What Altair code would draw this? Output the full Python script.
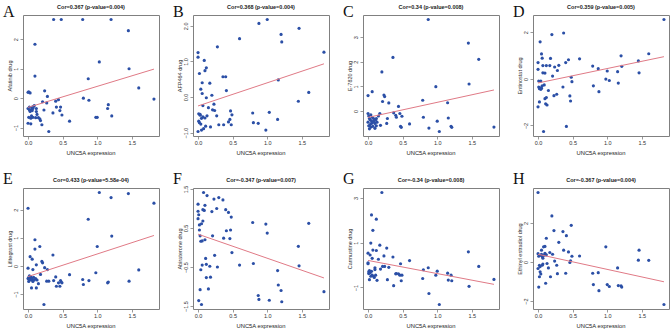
import altair as alt
import pandas as pd

# UNC5A expression per sample (shared by every panel)
unc5a = [0.0, 0.0, 0.0, 0.01, 0.01, 0.02, 0.02, 0.03, 0.03, 0.04,
         0.04, 0.05, 0.05, 0.06, 0.06, 0.07, 0.07, 0.08, 0.09, 0.1,
         0.1, 0.11, 0.12, 0.12, 0.13, 0.15, 0.17, 0.18, 0.2, 0.21,
         0.23, 0.24, 0.27, 0.28, 0.3, 0.36, 0.37, 0.4, 0.41, 0.44,
         0.46, 0.47, 0.48, 0.49, 0.6, 0.79, 0.8, 0.87, 0.88, 0.98,
         1.0, 1.03, 1.15, 1.16, 1.2, 1.21, 1.45, 1.46, 1.6, 1.82]

# Drug sensitivity scores, same sample order
afatinib = [0.2, -0.35, -0.85, 0.22, -0.65, -0.4, -0.3, 0.18, -0.45, -0.87,
            -0.68, -0.38, -0.6, -0.3, -0.42, -0.65, -0.35, -0.28, -0.25, 1.83,
            0.75, -0.66, -0.45, -0.35, -0.55, -0.66, -0.7, -0.76, -0.9, -0.12,
            -0.4, 0.25, -0.16, 0.06, -1.13, -0.5, 2.67, -0.1, -0.3, -0.05,
            -0.42, -0.3, 2.67, -0.57, -0.78, 2.67, 0.0, 0.66, -0.07, -0.65,
            -0.65, 1.23, -0.35, -0.22, 2.67, -0.6, 2.29, 1.0, 0.35, -0.03]
afp464 = [1.25, 1.12, -0.97, -0.47, -0.68, 0.66, -0.72, -0.49, -0.51, 0.22,
          -0.76, -0.93, -0.6, 0.4, 0.1, -0.24, -0.56, -0.89, 1.03, 0.74,
          -0.59, -0.82, 0.82, -0.02, -0.53, -0.3, 0.39, -0.84, 0.05, -0.36,
          -0.2, -0.38, -0.53, 1.41, -0.78, 0.57, -0.78, 0.57, 0.18, -0.7,
          -0.63, -0.39, -0.78, -0.5, 1.64, -0.45, -0.72, -0.74, 2.07, -0.93,
          2.18, -0.43, -0.63, 0.48, 1.76, 1.55, -0.12, 1.93, 0.13, 1.26]
e7820 = [0.63, -0.1, -0.45, -0.2, -0.6, -0.3, -0.72, -0.35, -0.55, -0.15,
         -0.65, -0.4, -0.5, 0.79, -0.25, -0.45, -0.62, -0.3, -0.4, -0.5,
         -0.7, -0.35, -0.3, -0.6, -0.45, -0.2, -0.1, -0.58, 1.59, 0.39,
         0.65, 0.59, -0.5, -0.3, 0.33, 2.18, -0.07, -0.17, -0.25, 0.19,
         -0.1, -0.62, -0.66, -0.21, -0.52, 0.44, -0.25, 3.72, -0.69, 0.99,
         -0.41, -0.83, 0.34, -0.28, -0.62, -0.66, 2.76, 1.1, 2.1, -0.65]
entinostat = [0.7, 0.41, -1.2, -0.09, -0.35, -0.99, -0.42, 1.59, -0.38, -0.09,
              -0.45, 1.07, -0.4, 0.89, -0.3, 0.57, 0.26, -2.26, -0.26, -0.85,
              0.25, -1.07, 0.57, -0.8, -1.12, -0.5, 0.57, 0.88, 1.9, 0.12,
              -0.72, 0.51, -0.66, 0.36, 0.58, -0.35, 1.97, 0.7, -2.04, 0.82,
              -0.73, -0.95, 0.07, -0.12, 0.86, 0.55, -0.3, 0.44, -0.55, -0.01,
              0.34, -0.07, 0.31, -0.18, 0.99, 0.54, 0.77, 0.26, 1.08, 2.55]
lifitegrast = [2.05, -0.08, -0.45, -0.4, -0.55, -0.35, -0.5, 0.33, -0.42, -0.48,
               -0.38, -0.78, -0.5, -0.45, 0.24, -0.13, -0.55, -0.4, -0.5, 0.93,
               0.6, -0.45, -0.78, 0.04, -0.5, -0.63, 0.69, -0.3, 0.16, 0.11,
               -1.37, -0.06, -0.54, -0.13, -0.54, 0.39, -0.52, -0.39, -0.72, -0.6,
               -0.72, -0.52, -0.57, -0.6, -0.31, -0.48, -0.66, 1.66, -0.52, -0.24,
               0.69, 2.61, -0.6, -0.57, 2.43, 1.06, 2.57, -0.54, -0.14, 2.23]
abiraterone = [1.11, 0.93, 0.74, -1.36, 0.84, 0.58, 0.45, 0.3, -1.08, 0.16,
               -0.57, 0.61, -1.46, 0.17, -0.45, 0.68, 0.97, 1.41, 0.95, 1.08,
               0.2, -0.28, -0.43, -0.77, 1.33, -1.06, -0.48, -0.76, 0.92, 0.3,
               1.24, -0.2, 1.0, -0.5, 1.28, 1.22, 0.24, 0.97, 0.43, 0.9,
               0.23, 0.45, 0.78, -0.13, -0.45, 0.64, -0.41, -1.23, -1.33, 0.6,
               0.37, -1.35, -0.59, -0.96, -1.1, -1.39, 0.03, -0.47, 0.62, -1.13]
carmustine = [0.53, 0.1, 0.06, -0.38, -0.3, -0.24, -0.65, 0.45, -0.35, 0.98,
              -0.5, 2.24, -0.28, 0.3, -0.45, 1.55, 0.67, -0.5, -0.55, -0.12,
              -0.2, -0.45, 2.05, 0.65, -0.68, 0.26, 0.89, -0.18, 3.24, -0.06,
              0.41, -0.06, 0.76, -0.65, -0.1, 0.36, -0.92, -0.39, -0.38, -0.39,
              -0.45, 0.06, -0.7, -0.45, 0.2, -0.6, -0.21, -0.12, -1.27, -0.45,
              -0.27, -1.76, -0.36, -0.67, -0.45, -0.7, 0.59, -0.95, -0.06, -0.64]
ethinyl_estradiol = [3.56, 0.43, -0.33, -1.28, 0.3, -0.16, -0.75, -0.23, -0.5, -0.61,
                     0.35, 0.61, 0.4, -0.16, 0.28, -0.1, 0.2, 0.78, 0.35, 0.8,
                     0.45, -1.08, 1.22, 0.37, -0.07, -0.3, 0.49, -0.75, 2.36, 0.4,
                     1.61, 0.05, -0.16, -0.59, 1.01, 1.56, 0.61, -0.57, 1.35, 0.52,
                     -0.02, 0.07, 1.88, 0.3, 0.31, -0.57, -1.15, -0.54, -1.46, 0.78,
                     -1.15, -1.25, -0.3, -1.2, -1.22, -1.28, 0.1, 0.61, 0.09, -2.17]

# Panel letters, y titles, headers and tick sets
letters = ["A", "B", "C", "D", "E", "F", "G", "H"]
drug_titles = ["Afatinib drug", "AFP464 drug", "E-7820 drug", "Entinostat drug",
               "Lifitegrast drug", "Abiraterone drug", "Carmustine drug",
               "Ethinyl estradiol drug"]
headers = ["Cor=0.367 (p-value=0.004)", "Cor=0.368 (p-value=0.004)",
           "Cor=0.34 (p-value=0.008)", "Cor=0.359 (p-value=0.005)",
           "Cor=0.433 (p-value=5.58e-04)", "Cor=-0.347 (p-value=0.007)",
           "Cor=-0.34 (p-value=0.008)", "Cor=-0.367 (p-value=0.004)"]
drug_values = [afatinib, afp464, e7820, entinostat,
               lifitegrast, abiraterone, carmustine, ethinyl_estradiol]
y_ticks = [[-1, 0, 1, 2], [-1.0, -0.5, 0.0, 0.5, 1.0, 1.5, 2.0], [0, 1, 2, 3],
           [-2, -1, 0, 1, 2], [-1, 0, 1, 2], [-1.5, -1.0, -0.5, 0.0, 0.5, 1.0, 1.5],
           [-1, 0, 1, 2, 3], [-2, -1, 0, 1, 2, 3]]
y_formats = ["d", ".1f", "d", "d", "d", ".1f", "d", "d"]
x_ticks = [0.0, 0.5, 1.0, 1.5]
x_title = "UNC5A expression"

POINT_COLOR = "#2b4fa6"
LINE_COLOR = "#e07a86"
TEXT_COLOR = "#333333"
FONT = "Liberation Sans"
W, H = 136, 121


def padded(vals):
    lo, hi = min(vals), max(vals)
    ext = 0.04 * (hi - lo)
    return [lo - ext, hi + ext]


def panel(i):
    df = pd.DataFrame({"x": unc5a, "y": drug_values[i]})
    x_enc = alt.X("x:Q", scale=alt.Scale(domain=padded(unc5a), nice=False, zero=False),
                  axis=alt.Axis(values=x_ticks, format=".1f", title=None, labelPadding=1))
    y_enc = alt.Y("y:Q", scale=alt.Scale(domain=padded(drug_values[i]), nice=False, zero=False),
                  axis=alt.Axis(values=y_ticks[i], format=y_formats[i], title=drug_titles[i],
                                labelAngle=270, labelAlign="center", labelBaseline="bottom",
                                labelPadding=2, titlePadding=1))
    base = alt.Chart(df)
    dots = base.mark_circle(size=10, color=POINT_COLOR, opacity=1).encode(x=x_enc, y=y_enc)
    fit = base.transform_regression("x", "y").mark_line(
        color=LINE_COLOR, strokeWidth=1).encode(x="x:Q", y="y:Q")

    # panel letter, header and x-axis caption drawn as text marks around the frame
    tag_y = 2 if i < 4 else -4
    tag = alt.Chart(pd.DataFrame({"letter": [letters[i]]})).mark_text(
        font="Liberation Serif", fontSize=16, align="left", baseline="alphabetic",
        fill="#111111").encode(x=alt.value(-20), y=alt.value(tag_y), text="letter:N")
    head = alt.Chart(pd.DataFrame({"header": [headers[i]]})).mark_text(
        font=FONT, fontSize=5.5, fontWeight="bold", align="center",
        baseline="alphabetic", fill="#222222").encode(
        x=alt.value(W / 2), y=alt.value(-6), text="header:N")
    xcap = alt.Chart(pd.DataFrame({"caption": [x_title]})).mark_text(
        font=FONT, fontSize=5.8, align="center", baseline="alphabetic",
        fill="#222222").encode(
        x=alt.value(W / 2), y=alt.value(H + 19), text="caption:N")
    return alt.layer(dots, fit, tag, head, xcap).properties(width=W, height=H)


chart = alt.concat(
    *[panel(i) for i in range(8)], columns=4,
    spacing=alt.RowColnumber(row=52, column=34), bounds="flush"
).properties(
    padding={"left": 2, "top": 3, "right": 0, "bottom": 0},
    background="white"
).configure_view(
    stroke="#808080", strokeWidth=1
).configure_axis(
    domain=False, grid=False, tickColor="#808080", tickSize=3, tickWidth=0.8,
    labelFont=FONT, labelFontSize=5.5, labelColor=TEXT_COLOR,
    titleFont=FONT, titleFontSize=5.5, titleFontWeight="normal", titleColor=TEXT_COLOR
)

chart.save("out.html", embed_options={"renderer": "svg", "actions": False})
